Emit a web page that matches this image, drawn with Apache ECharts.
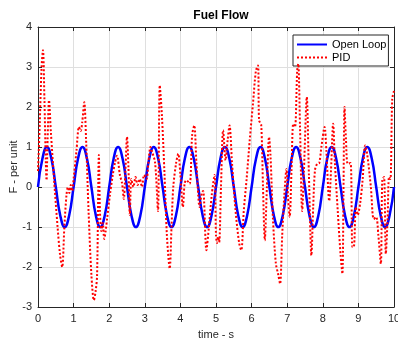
<!DOCTYPE html>
<html>
<head>
<meta charset="utf-8">
<script src="https://cdn.jsdelivr.net/npm/echarts@6/dist/echarts.min.js"></script>
<style>
html,body{margin:0;padding:0;background:#fff;}
#chart{width:398px;height:341px;}
</style>
</head>
<body>
<div id="chart"></div>
<script>
const chartTitle = 'Fuel Flow';
const xName = 'time - s';
const yName = 'F - per unit';
const seriesNames = ['Open Loop', 'PID'];
const xTicks = [0, 1, 2, 3, 4, 5, 6, 7, 8, 9, 10];
const yTicks = [-3, -2, -1, 0, 1, 2, 3, 4];

const olTime = [0,0.125,0.25,0.375,0.5,0.625,0.75,0.875,1,1.125,1.25,1.375,1.5,1.625,1.75,1.875,2,2.125,2.25,2.375,2.5,2.625,2.75,2.875,3,3.125,3.25,3.375,3.5,3.625,3.75,3.875,4,4.125,4.25,4.375,4.5,4.625,4.75,4.875,5,5.125,5.25,5.375,5.5,5.625,5.75,5.875,6,6.125,6.25,6.375,6.5,6.625,6.75,6.875,7,7.125,7.25,7.375,7.5,7.625,7.75,7.875,8,8.125,8.25,8.375,8.5,8.625,8.75,8.875,9,9.125,9.25,9.375,9.5,9.625,9.75,9.875,10];
const olValue = [0,0.71,1,0.71,0,-0.71,-1,-0.71,0,0.71,1,0.71,0,-0.71,-1,-0.71,0,0.71,1,0.71,0,-0.71,-1,-0.71,0,0.71,1,0.71,0,-0.71,-1,-0.71,0,0.71,1,0.71,0,-0.71,-1,-0.71,0,0.71,1,0.71,0,-0.71,-1,-0.71,0,0.71,1,0.71,0,-0.71,-1,-0.71,0,0.71,1,0.71,0,-0.71,-1,-0.71,0,0.71,1,0.71,0,-0.71,-1,-0.71,0,0.71,1,0.71,0,-0.71,-1,-0.71,0];

const pidTime = [0,0.05,0.10,0.14,0.18,0.22,0.24,0.27,0.31,0.36,0.45,0.55,0.62,0.68,0.74,0.80,0.84,0.88,0.92,0.96,1.00,1.08,1.15,1.20,1.24,1.30,1.35,1.42,1.50,1.57,1.62,1.66,1.71,1.74,1.78,1.82,1.86,1.90,1.94,2.02,2.10,2.16,2.22,2.30,2.36,2.41,2.45,2.50,2.54,2.58,2.62,2.68,2.74,2.80,2.86,2.92,2.98,3.05,3.10,3.16,3.20,3.29,3.37,3.42,3.48,3.55,3.62,3.70,3.75,3.80,3.88,3.94,4.00,4.07,4.12,4.17,4.26,4.33,4.39,4.45,4.54,4.60,4.64,4.73,4.80,4.88,4.96,5.00,5.03,5.06,5.09,5.14,5.20,5.27,5.33,5.38,5.45,5.55,5.65,5.71,5.78,5.86,5.95,6.04,6.12,6.18,6.21,6.27,6.32,6.37,6.43,6.49,6.53,6.60,6.68,6.75,6.80,6.86,6.92,6.98,7.02,7.07,7.12,7.17,7.22,7.28,7.31,7.36,7.42,7.47,7.55,7.61,7.68,7.73,7.78,7.84,7.90,7.96,8.05,8.10,8.18,8.23,8.29,8.34,8.42,8.50,8.55,8.58,8.61,8.65,8.70,8.78,8.83,8.87,8.93,8.98,9.05,9.12,9.19,9.25,9.35,9.43,9.50,9.56,9.63,9.67,9.72,9.77,9.82,9.86,9.90,9.95,10.0];
const pidValue = [0.4,1.6,3.0,3.42,2.2,0.6,0.17,1.2,2.17,1.4,0.2,-1.0,-1.7,-2.0,-1.0,-0.2,0.0,-0.15,0.05,-0.1,0.2,0.9,1.5,1.4,1.6,2.12,1.2,-0.6,-2.2,-2.83,-2.6,-2.2,0.8,-0.6,-1.1,-0.9,-1.3,-1.1,-0.8,-0.2,0.3,0.6,0.78,0.3,0.1,-0.3,0.3,1.25,0.5,-0.7,0.2,0.0,0.25,0.05,0.2,0.0,0.3,0.2,0.6,1.0,0.9,0.6,-0.6,2.54,1.8,0.4,-1.2,-2.04,-1.0,0.0,0.6,0.83,0.3,-0.5,0.1,0.17,0.08,1.3,1.54,0.6,-0.5,-0.15,-0.1,-1.58,-1.0,-0.2,0.3,-1.2,-1.4,-1.25,-1.38,0.0,1.42,0.67,1.2,1.54,0.6,-0.6,-1.4,-1.58,-0.6,0.2,1.2,2.1,2.9,3.04,1.67,1.55,0.0,-1.33,0.0,1.25,0.8,-0.8,-1.9,-2.2,-2.42,-1.2,-0.2,0.45,-0.2,-0.75,0.4,1.58,1.5,2.9,3.08,1.5,-0.6,0.4,2.25,0.3,-1.71,-0.5,0.42,0.58,0.6,1.0,1.5,0.9,-0.35,0.4,1.58,0.6,-0.6,-1.7,-2.17,-0.2,2.0,1.2,0.58,0.6,-1.5,-1.5,-0.5,-0.7,-0.4,0.2,1.04,0.8,0.0,-0.8,-0.75,-1.2,-1.92,0.17,0.25,-1.67,-0.8,0.25,0.2,2.2,2.4];

const olData = olTime.map((t, i) => [t, olValue[i]]);
const pidData = pidTime.map((t, i) => [t, pidValue[i]]);

const FONT = 'Liberation Sans, Arial, Helvetica, sans-serif';
const AX = '#262626';
const chart = echarts.init(document.getElementById('chart'), null, {renderer: 'canvas'});

const baseX = {
  type: 'value', min: xTicks[0], max: xTicks[xTicks.length - 1], interval: 1,
  axisLine: {show: true, onZero: false, lineStyle: {color: AX, width: 1}},
  axisTick: {show: true, inside: true, length: 4, lineStyle: {color: AX}},
};
const baseY = {
  type: 'value', min: yTicks[0], max: yTicks[yTicks.length - 1], interval: 1,
  axisLine: {show: true, onZero: false, lineStyle: {color: AX, width: 1}},
  axisTick: {show: true, inside: true, length: 4, lineStyle: {color: AX}},
};

chart.setOption({
  animation: false,
  backgroundColor: '#fff',
  title: {
    text: chartTitle, left: 216, top: 5, textAlign: 'center',
    textStyle: {fontFamily: FONT, fontSize: 12, fontWeight: 'bold', color: '#000'}
  },
  grid: {left: 38, right: 4, top: 27, bottom: 34, containLabel: false, outerBoundsMode: 'none'},
  legend: {
    orient: 'vertical', left: 293, top: 35,
    padding: [4, 2, 3, 3], itemGap: 2, itemWidth: 30, itemHeight: 11,
    borderColor: AX, borderWidth: 1, backgroundColor: '#fff',
    itemStyle: {opacity: 0},
    textStyle: {fontFamily: FONT, fontSize: 11, color: '#000'},
    data: seriesNames
  },
  xAxis: [
    Object.assign({}, baseX, {
      position: 'bottom',
      name: xName, nameLocation: 'middle', nameGap: 22, nameMoveOverlap: false,
      nameTextStyle: {fontFamily: FONT, fontSize: 11, color: AX},
      axisLabel: {fontFamily: FONT, fontSize: 11, color: AX, margin: 6},
      splitLine: {show: true, lineStyle: {color: '#dfdfdf', width: 1}}
    }),
    Object.assign({}, baseX, {
      position: 'top', axisLabel: {show: false}, splitLine: {show: false}
    })
  ],
  yAxis: [
    Object.assign({}, baseY, {
      position: 'left',
      name: yName, nameLocation: 'middle', nameGap: 19, nameMoveOverlap: false,
      nameTextStyle: {fontFamily: FONT, fontSize: 11, color: AX},
      axisLabel: {fontFamily: FONT, fontSize: 11, color: AX, margin: 6},
      splitLine: {show: true, lineStyle: {color: '#dfdfdf', width: 1}}
    }),
    Object.assign({}, baseY, {
      position: 'right', axisLabel: {show: false}, splitLine: {show: false}
    })
  ],
  series: [
    {
      name: seriesNames[0], type: 'line', data: olData,
      xAxisIndex: 0, yAxisIndex: 0,
      symbol: 'none', showSymbol: false, smooth: 0.5,
      lineStyle: {color: '#0000ff', width: 2.5},
      itemStyle: {color: '#0000ff'}, z: 3
    },
    {
      name: seriesNames[1], type: 'line', data: pidData,
      xAxisIndex: 0, yAxisIndex: 0,
      symbol: 'none', showSymbol: false, smooth: 0.3,
      lineStyle: {color: '#ff0000', width: 2, type: 'dotted'},
      itemStyle: {color: '#ff0000'}, z: 4
    }
  ]
});
</script>
</body>
</html>
